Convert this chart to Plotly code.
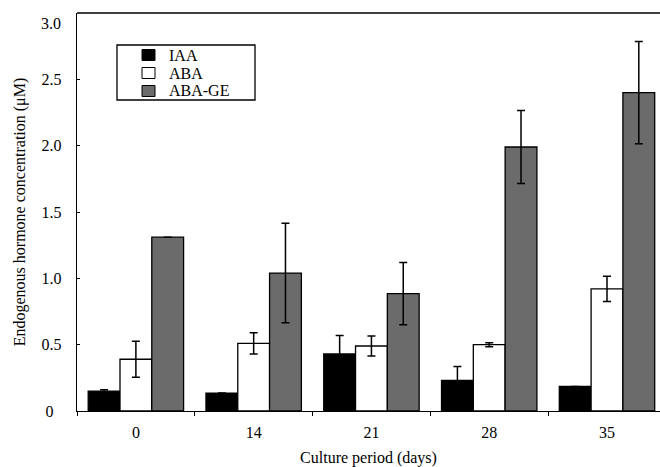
import plotly.graph_objects as go

days = ["0", "14", "21", "28", "35"]
iaa = [0.15, 0.135, 0.43, 0.23, 0.185]
iaa_err = [0.01, None, 0.14, 0.105, None]
aba = [0.39, 0.51, 0.49, 0.50, 0.92]
aba_err = [0.135, 0.08, 0.075, 0.015, 0.095]
abage = [1.31, 1.04, 0.885, 1.99, 2.40]
abage_err = [None, 0.375, 0.235, 0.275, 0.385]

series_names = ["IAA", "ABA", "ABA-GE"]
series_colors = ["black", "white", "#6b6b6b"]

FONT = "Liberation Serif, Times New Roman, serif"

W, H = 660, 467
ML, MR, MT, MB = 77, 0, 13, 56
PW, PH = W - ML - MR, H - MT - MB


def px2x(px):
    return (px - ML) / PW


def px2y(py):
    return (H - MB - py) / PH


def bar(name, y, err, color):
    return go.Bar(
        name=name, x=days, y=y, showlegend=False, hoverinfo="skip",
        marker=dict(color=color, line=dict(color="black", width=1.3)),
        error_y=dict(type="data", array=err, visible=True, color="black",
                     thickness=1.5, width=4),
    )


fig = go.Figure([
    bar(series_names[0], iaa, iaa_err, series_colors[0]),
    bar(series_names[1], aba, aba_err, series_colors[1]),
    bar(series_names[2], abage, abage_err, series_colors[2]),
])

fig.update_layout(
    width=W, height=H,
    margin=dict(l=ML, r=MR, t=MT, b=MB, autoexpand=False),
    paper_bgcolor="white", plot_bgcolor="white",
    font=dict(family=FONT, size=16, color="black"),
    barmode="group", bargap=0.19, bargroupgap=0,
    showlegend=False, hovermode=False,
)
fig.update_xaxes(
    type="category", range=[-0.5, 4.45], automargin=False,
    showline=True, linecolor="black", linewidth=1.3, mirror=False,
    ticks="outside", ticklen=4, tickcolor="black", tickson="boundaries",
    showgrid=False, zeroline=False, ticklabelstandoff=6,
    tickfont=dict(family=FONT, size=16),
    title=dict(text="Culture period (days)", font=dict(family=FONT, size=16), standoff=13),
)
fig.update_yaxes(
    range=[0, 3.0], automargin=False,
    tickvals=[0, 0.5, 1.0, 1.5, 2.0, 2.5, 3.0],
    ticktext=["0\u00a0\u00a0", "0.5", "1.0", "1.5", "2.0", "2.5", ""],
    showline=True, linecolor="black", linewidth=1.3,
    ticks="inside", ticklen=3, tickcolor="black",
    showgrid=False, zeroline=False, ticklabelstandoff=11,
    tickfont=dict(family=FONT, size=16),
    title=dict(text="Endogenous hormone concentration (μM)",
               font=dict(family=FONT, size=16), standoff=12),
)
# top frame line
fig.add_shape(type="line", xref="paper", yref="paper", x0=0, x1=1.01, y0=1, y1=1,
              line=dict(color="black", width=1.3))
# top label "3.0" sits a little below its tick in the reference
fig.add_annotation(text="3.0", xref="paper", yref="paper", x=px2x(63), y=px2y(24),
                   xanchor="right", yanchor="middle", showarrow=False,
                   font=dict(family=FONT, size=16))

# legend drawn as a box with swatches and labels
fig.add_shape(type="rect", xref="paper", yref="paper",
              x0=px2x(117), x1=px2x(255), y0=px2y(100), y1=px2y(45),
              line=dict(color="black", width=1.3), fillcolor="white")
for name, color, cy in zip(series_names, series_colors, [55, 73, 91]):
    fig.add_shape(type="rect", xref="paper", yref="paper",
                  x0=px2x(142), x1=px2x(155), y0=px2y(cy + 5.5), y1=px2y(cy - 5.5),
                  line=dict(color="black", width=1), fillcolor=color)
    fig.add_annotation(text=name, xref="paper", yref="paper", x=px2x(167), y=px2y(cy),
                       xanchor="left", yanchor="middle", showarrow=False,
                       font=dict(family=FONT, size=16))

fig.write_html("out.html", config={"displayModeBar": False, "staticPlot": True},
               post_script="document.body.style.margin='0';document.body.style.overflow='hidden';")
